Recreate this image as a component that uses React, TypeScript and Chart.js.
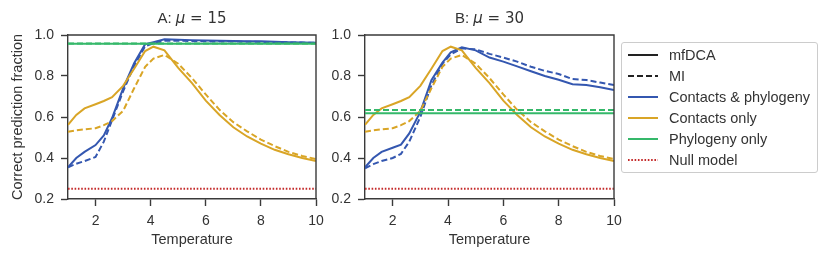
import React, { useEffect, useRef } from "react";
import { Chart, registerables } from "chart.js";

Chart.register(...registerables);

// ---------- data ----------
const temperature = [1, 1.3, 1.6, 2.0, 2.3, 2.6, 3.0, 3.4, 3.8, 4.1, 4.5, 5.0, 5.5, 6.0, 6.5, 7.0, 7.5, 8.0, 8.5, 9.0, 9.5, 10];

const contactsOnlyMfDCA = [0.562, 0.61, 0.642, 0.662, 0.678, 0.697, 0.752, 0.835, 0.922, 0.943, 0.925, 0.84, 0.765, 0.68, 0.61, 0.55, 0.505, 0.47, 0.44, 0.418, 0.4, 0.385];
const contactsOnlyMI = [0.528, 0.535, 0.54, 0.545, 0.56, 0.58, 0.63, 0.74, 0.845, 0.885, 0.903, 0.86, 0.79, 0.71, 0.635, 0.575, 0.53, 0.49, 0.458, 0.43, 0.41, 0.395];

const bothMfDCA_A = [0.355, 0.4, 0.43, 0.463, 0.51, 0.595, 0.74, 0.862, 0.955, 0.965, 0.979, 0.977, 0.975, 0.973, 0.972, 0.971, 0.97, 0.969, 0.967, 0.965, 0.964, 0.962];
const bothMI_A = [0.355, 0.372, 0.385, 0.405, 0.48, 0.585, 0.725, 0.85, 0.945, 0.96, 0.972, 0.972, 0.97, 0.969, 0.968, 0.968, 0.967, 0.966, 0.965, 0.964, 0.963, 0.962];
const phyloMfDCA_A = 0.957;
const phyloMI_A = 0.959;

const bothMfDCA_B = [0.355, 0.4, 0.43, 0.45, 0.465, 0.52, 0.625, 0.78, 0.865, 0.915, 0.94, 0.925, 0.89, 0.87, 0.847, 0.823, 0.8, 0.782, 0.76, 0.756, 0.745, 0.732];
const bothMI_B = [0.35, 0.37, 0.385, 0.4, 0.42, 0.48, 0.6, 0.755, 0.86, 0.905, 0.935, 0.93, 0.908, 0.89, 0.87, 0.845, 0.825, 0.81, 0.785, 0.78, 0.768, 0.756];
const phyloMfDCA_B = 0.618;
const phyloMI_B = 0.634;

const nullModel = 0.25;

const xTickValues = [2, 4, 6, 8, 10];
const yTickValues = [0.2, 0.4, 0.6, 0.8, 1.0];

const panelTitles = [
  { prefix: "A: ", sym: "\u03bc", rest: " = 15" },
  { prefix: "B: ", sym: "\u03bc", rest: " = 30" },
];

const legendLabels = ["mfDCA", "MI", "Contacts & phylogeny", "Contacts only", "Phylogeny only", "Null model"];

// ---------- styles ----------
const BLUE = "#3457b0";
const YELLOW = "#d9a526";
const GREEN = "#35b86a";
const RED = "#c42a2a";
const SPINE = "#3a3a3a";
const TEXT = "#333333";
const FONT = "'Liberation Sans', Arial, sans-serif";
const DASH = [6, 3];
const DOT = [1.6, 1.7];
const LW = 2;

function pts(ys: number[]) {
  return temperature.map((t, i) => ({ x: t, y: ys[i] }));
}
function flat(v: number) {
  return [{ x: 1, y: v }, { x: 10, y: v }];
}

const spinePlugin = {
  id: "spines",
  afterDraw(chart: any) {
    const { ctx, chartArea } = chart;
    ctx.save();
    ctx.strokeStyle = SPINE;
    ctx.lineWidth = 1.4;
    ctx.beginPath();
    ctx.moveTo(chartArea.left, chartArea.top);
    ctx.lineTo(chartArea.right, chartArea.top);
    ctx.lineTo(chartArea.right, chartArea.bottom);
    ctx.stroke();
    ctx.restore();
  },
};

function makeTitlePlugin(idx: number) {
  return {
    id: "panelTitle" + idx,
    afterDraw(chart: any) {
      const { ctx, chartArea } = chart;
      const t = panelTitles[idx];
      const f1 = `15px ${FONT}`;
      const f2 = `italic 15px 'DejaVu Sans', sans-serif`;
      const f3 = `15px 'DejaVu Sans', sans-serif`;
      ctx.save();
      ctx.fillStyle = TEXT;
      ctx.textBaseline = "middle";
      ctx.textAlign = "left";
      ctx.font = f1;
      const w1 = ctx.measureText(t.prefix).width;
      ctx.font = f2;
      const w2 = ctx.measureText(t.sym).width;
      ctx.font = f3;
      const w3 = ctx.measureText(t.rest).width;
      const cx = (chartArea.left + chartArea.right) / 2;
      let x = cx - (w1 + w2 + w3) / 2;
      const y = 19;
      ctx.font = f1;
      ctx.fillText(t.prefix, x, y);
      x += w1;
      ctx.font = f2;
      ctx.fillText(t.sym, x, y);
      x += w2;
      ctx.font = f3;
      ctx.fillText(t.rest, x, y);
      ctx.restore();
    },
  };
}

function buildConfig(idx: number): any {
  const isA = idx === 0;
  const both = isA ? bothMfDCA_A : bothMfDCA_B;
  const bothMI = isA ? bothMI_A : bothMI_B;
  const phylo = isA ? phyloMfDCA_A : phyloMfDCA_B;
  const phyloMI = isA ? phyloMI_A : phyloMI_B;
  const line = (data: any[], color: string, dash: number[] = []) => ({
    data,
    borderColor: color,
    borderWidth: LW,
    borderDash: dash,
    pointRadius: 0,
    fill: false,
    tension: 0,
  });
  return {
    type: "line",
    data: {
      datasets: [
        line(flat(nullModel), RED, DOT),
        line(flat(phylo), GREEN),
        line(flat(phyloMI), GREEN, DASH),
        line(pts(contactsOnlyMfDCA), YELLOW),
        line(pts(contactsOnlyMI), YELLOW, DASH),
        line(pts(both), BLUE),
        line(pts(bothMI), BLUE, DASH),
      ],
    },
    options: {
      animation: false,
      responsive: false,
      maintainAspectRatio: false,
      layout: {
        padding: isA ? { left: 0, right: 514, top: 35, bottom: 0 } : { left: 320, right: 216, top: 35, bottom: 0 },
      },
      plugins: { legend: { display: false }, tooltip: { enabled: false }, title: { display: false } },
      scales: {
        x: {
          type: "linear",
          min: 1,
          max: 10,
          afterFit: (s: any) => { s.height = 62; },
          afterBuildTicks: (s: any) => { s.ticks = xTickValues.map((v) => ({ value: v })); },
          ticks: { color: TEXT, font: { family: FONT, size: 14 }, padding: 7, maxRotation: 0, callback: (v: any) => String(v) },
          grid: { display: true, drawOnChartArea: false, drawTicks: true, tickLength: 7, tickWidth: 1.4, tickColor: SPINE },
          border: { display: true, color: SPINE, width: 1.4 },
          title: { display: true, text: "Temperature", color: TEXT, font: { family: FONT, size: 14.5 }, padding: { top: 0, bottom: 12.5 } },
        },
        y: {
          type: "linear",
          min: 0.2,
          max: 1.0,
          afterFit: (s: any) => { s.width = isA ? 68 : 45; },
          afterBuildTicks: (s: any) => { s.ticks = yTickValues.map((v) => ({ value: v })); },
          ticks: { color: TEXT, font: { family: FONT, size: 14 }, padding: 7, callback: (v: any) => Number(v).toFixed(1) },
          grid: { display: true, drawOnChartArea: false, drawTicks: true, tickLength: 7, tickWidth: 1.4, tickColor: SPINE },
          border: { display: true, color: SPINE, width: 1.4 },
          title: {
            display: isA,
            text: "Correct prediction fraction",
            color: TEXT,
            font: { family: FONT, size: 14.5 },
            padding: { top: 9.5, bottom: 0 },
          },
        },
      },
    },
    plugins: [spinePlugin, makeTitlePlugin(idx)],
  };
}

function Panel({ idx }: { idx: number }) {
  const ref = useRef<HTMLCanvasElement | null>(null);
  useEffect(() => {
    if (!ref.current) return;
    const chart = new Chart(ref.current, buildConfig(idx));
    return () => chart.destroy();
  }, [idx]);
  return (
    <canvas
      ref={ref}
      width={830}
      height={261}
      style={{ position: "absolute", left: 0, top: 0, width: 830, height: 261 }}
    />
  );
}

function LegendSample({ i }: { i: number }) {
  const specs = [
    { c: "#222222", d: "" },
    { c: "#222222", d: "6,3" },
    { c: BLUE, d: "" },
    { c: YELLOW, d: "" },
    { c: GREEN, d: "" },
    { c: RED, d: "1.6,1.7" },
  ];
  const s = specs[i];
  return (
    <svg width={32} height={10} style={{ display: "block" }}>
      <line x1={1} y1={5} x2={31} y2={5} stroke={s.c} strokeWidth={LW} strokeDasharray={s.d || undefined} />
    </svg>
  );
}

function Legend() {
  return (
    <div
      style={{
        position: "absolute",
        left: 621,
        top: 42,
        width: 195,
        height: 129,
        border: "1px solid #cccccc",
        borderRadius: 3,
        background: "rgba(255,255,255,0.85)",
        fontFamily: FONT,
        fontSize: 14.5,
        color: TEXT,
      }}
    >
      {legendLabels.map((lab, i) => (
        <div
          key={lab}
          style={{ position: "absolute", left: 5, top: 2 + i * 21, height: 20, display: "flex", alignItems: "center", whiteSpace: "nowrap" }}
        >
          <LegendSample i={i} />
          <span style={{ marginLeft: 10 }}>{lab}</span>
        </div>
      ))}
    </div>
  );
}

export default function App() {
  return (
    <div style={{ position: "fixed", left: 0, top: 0, width: 830, height: 261, background: "#ffffff", overflow: "hidden" }}>
      <Panel idx={0} />
      <Panel idx={1} />
      <Legend />
    </div>
  );
}
